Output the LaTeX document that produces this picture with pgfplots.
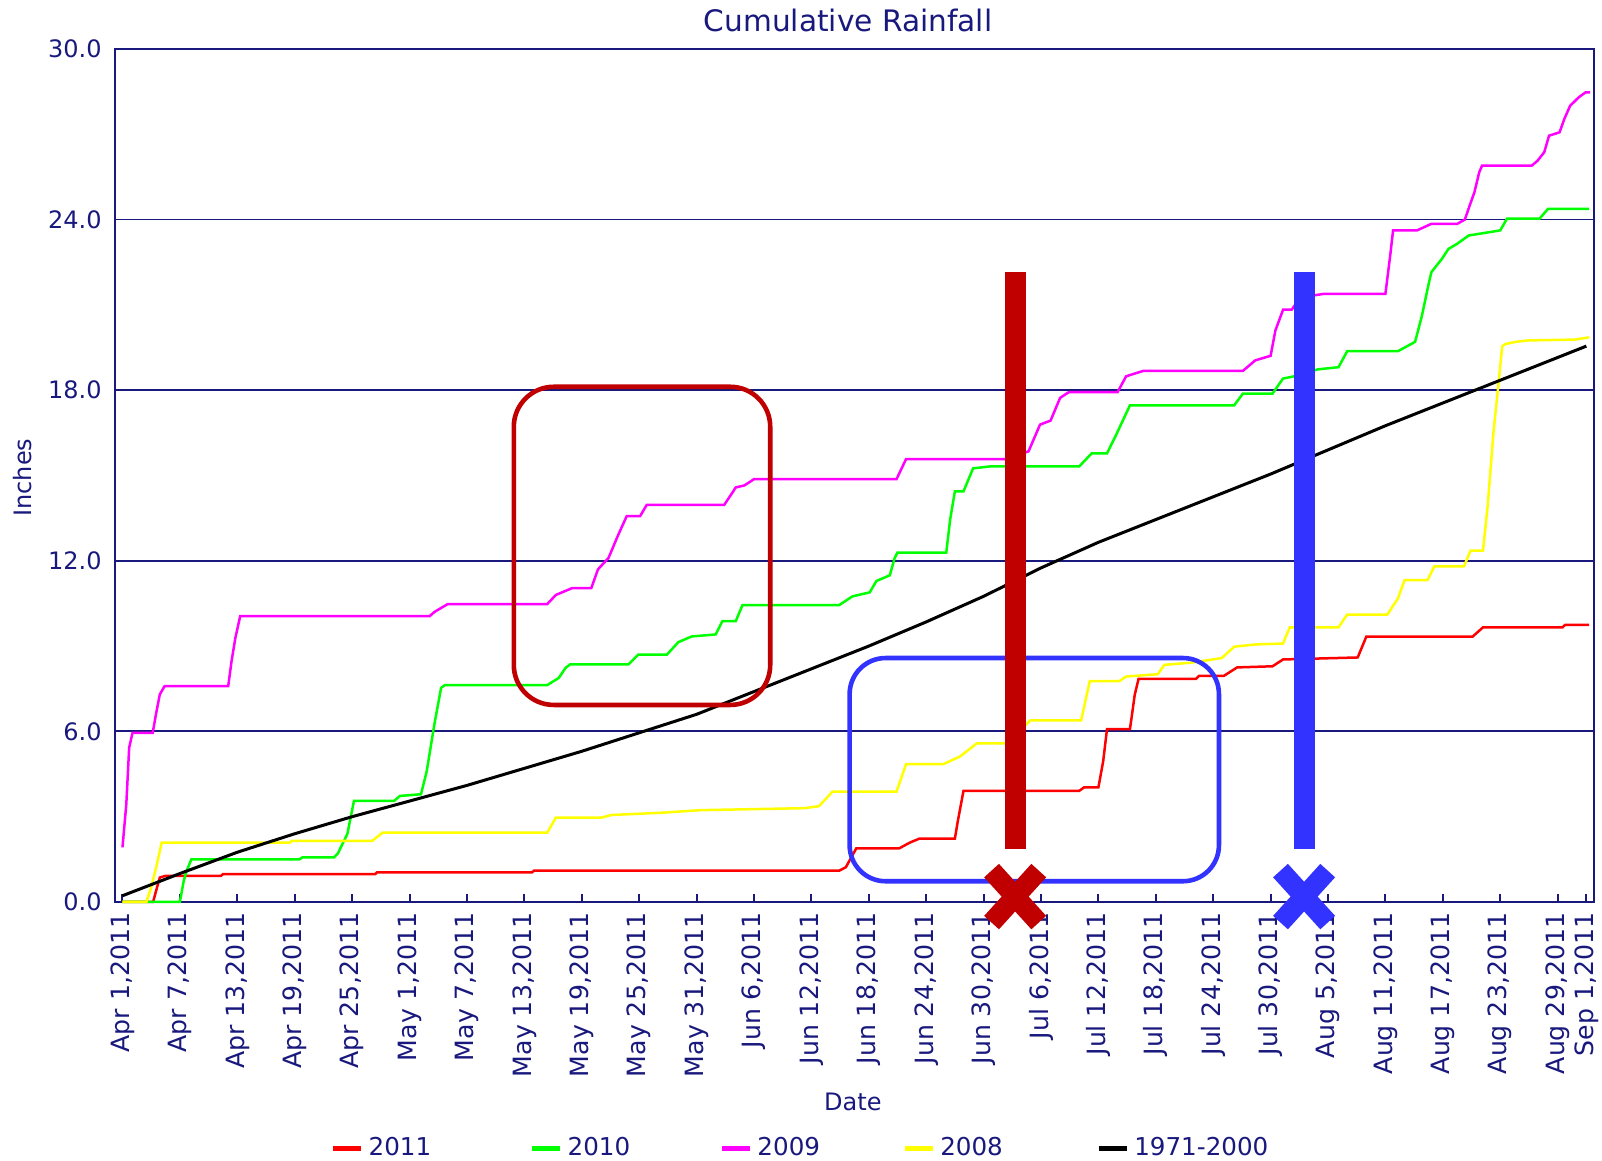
\documentclass[border=0pt]{standalone}
\usepackage{pgfplots}
\pgfplotsset{compat=1.18}
\usepackage{fontspec}
\setmainfont{DejaVu Sans}
\usetikzlibrary{calc}
\definecolor{navy}{RGB}{25,25,125}
\definecolor{annred}{RGB}{192,0,0}
\definecolor{annblue}{RGB}{51,51,255}
\definecolor{s2011}{RGB}{255,0,0}
\definecolor{s2010}{RGB}{0,255,0}
\definecolor{s2009}{RGB}{255,0,255}
\definecolor{s2008}{RGB}{255,255,0}
\newcommand\tk{\fontsize{12}{14}\selectfont}
\newcommand\tkx{\fontsize{12.6}{14}\selectfont}
\newcommand\tkl{\fontsize{12.3}{14}\selectfont}
\begin{document}
\begin{tikzpicture}
\useasboundingbox (-57.7pt,-129.5pt) rectangle (743.3pt,451pt);
\begin{axis}[
  at={(0,0)}, anchor=south west,
  scale only axis, width=739.3pt, height=426.5pt,
  xmin=-0.74, xmax=153.8, ymin=0, ymax=30,
  clip=false,
  axis line style={navy, line width=1pt},
  ytick={0,6,12,18,24,30},
  yticklabels={0.0,6.0,12.0,18.0,24.0,30.0},
  ymajorgrids, grid style={navy, line width=0.9pt},
  ytick style={draw=none},
  yticklabel style={font=\tk, text=navy, inner sep=0pt, xshift=-6.7pt},
  xtick={0,6,12,18,24,30,36,42,48,54,60,66,72,78,84,90,96,102,108,114,120,126,132,138,144,150,153},
  xticklabels={{Apr 1,2011},{Apr 7,2011},{Apr 13,2011},{Apr 19,2011},{Apr 25,2011},{May 1,2011},{May 7,2011},{May 13,2011},{May 19,2011},{May 25,2011},{May 31,2011},{Jun 6,2011},{Jun 12,2011},{Jun 18,2011},{Jun 24,2011},{Jun 30,2011},{Jul 6,2011},{Jul 12,2011},{Jul 18,2011},{Jul 24,2011},{Jul 30,2011},{Aug 5,2011},{Aug 11,2011},{Aug 17,2011},{Aug 23,2011},{Aug 29,2011},{Sep 1,2011}},
  xticklabel style={font=\tkx, text=navy, rotate=90, anchor=east, inner sep=0pt},
  xticklabel shift=5.2pt,
  xtick pos=bottom, tick align=inside, major tick length=4pt,
  xtick style={navy, line width=1pt},
  title={Cumulative Rainfall},
  every axis title/.style={font=\fontsize{14.8}{16}\selectfont, text=navy, at={(axis description cs:0.4955,1.034)}, anchor=center},
  xlabel={Date},
  every axis x label/.style={font=\tk, text=navy, at={(axis description cs:0.4988,-0.2338)}, anchor=center},
  ylabel={Inches},
  every axis y label/.style={font=\tk, text=navy, rotate=90, at={(axis description cs:-0.0629,0.4975)}, anchor=center},
  legend columns=5,
  legend cell align=left,
  legend image code/.code={\draw[line width=2.5pt] (0pt,0pt) -- (14pt,0pt);},
  legend style={at={(axis description cs:0.1452,-0.2885)}, anchor=west, draw=none, fill=none,
    font=\tkl, text=navy, inner sep=0pt, nodes={inner sep=0pt}},
  every axis plot/.append style={line width=1.25pt},
]
\addplot[s2011, no marks] coordinates {
(0,0) (3.2,0) (3.6,0.5) (3.9,0.86) (4.5,0.92) (10.3,0.92) (10.5,0.98) (26.4,0.98) (26.6,1.04) (42.8,1.04) (43,1.1) (74.9,1.1) (75.6,1.22) (76.7,1.89) (81.2,1.89) (82.3,2.09) (83.3,2.23) (87,2.23) (87.3,2.83) (87.9,3.91) (100,3.91) (100.5,4.03) (102,4.03) (102.5,4.95) (102.9,6.08) (105.3,6.08) (105.8,7.29) (106.2,7.85) (112.2,7.85) (112.5,7.95) (115.1,7.95) (116.5,8.25) (120.2,8.29) (121.3,8.53) (129.1,8.6) (130,9.33) (141.1,9.33) (142.2,9.66) (150.5,9.66) (150.8,9.75) (153.3,9.75)
};
\addlegendentry{\hspace{2.6pt}\makebox[80.4pt][l]{2011}}
\addplot[s2010, no marks] coordinates {
(0,0) (6.0,0) (6.4,0.74) (6.7,1.09) (7.2,1.5) (18.5,1.5) (18.8,1.57) (22.1,1.57) (22.5,1.7) (23.5,2.39) (24.2,3.56) (28.4,3.56) (29,3.73) (31.2,3.79) (31.8,4.6) (32.6,6.25) (33.3,7.53) (33.7,7.63) (44.4,7.63) (45.6,7.88) (46.3,8.23) (46.8,8.36) (52.9,8.36) (53.9,8.70) (56.9,8.70) (58.1,9.14) (59.5,9.34) (62,9.41) (62.7,9.88) (64.1,9.88) (64.8,10.44) (74.9,10.44) (76.3,10.75) (78.1,10.89) (78.8,11.29) (80.2,11.49) (80.7,12.09) (81,12.29) (86.1,12.29) (86.5,13.44) (87,14.44) (87.9,14.44) (88.9,15.25) (90.7,15.32) (100,15.32) (101.3,15.78) (102.9,15.78) (103.8,16.39) (105.3,17.47) (116.2,17.47) (117.1,17.88) (120.2,17.88) (121.3,18.41) (122.5,18.49) (124.9,18.73) (127.1,18.81) (128,19.37) (133.3,19.37) (135.1,19.7) (135.8,20.6) (136.5,21.71) (136.8,22.15) (137.9,22.62) (138.6,22.97) (139.5,23.15) (140.7,23.44) (141.8,23.5) (144,23.62) (144.7,24.03) (148.1,24.03) (149,24.38) (153.3,24.38)
};
\addlegendentry{\hspace{2.6pt}\makebox[75.8pt][l]{2010}}
\addplot[s2009, no marks] coordinates {
(0,1.92) (0.4,3.44) (0.7,5.43) (1.05,5.95) (3.16,5.95) (3.5,6.6) (3.9,7.3) (4.4,7.59) (11.05,7.59) (11.4,8.47) (11.8,9.29) (12.3,10.05) (32.1,10.05) (32.6,10.2) (34.0,10.48) (44.4,10.48) (45.3,10.8) (47.0,11.04) (49.0,11.04) (49.7,11.7) (50.8,12.1) (51.8,12.9) (52.7,13.57) (54.1,13.57) (54.8,13.97) (62.9,13.97) (64.1,14.58) (65,14.65) (66,14.87) (80.9,14.87) (81.9,15.58) (92.4,15.58) (94.7,15.85) (95.9,16.79) (97,16.93) (98,17.73) (98.9,17.93) (104,17.93) (104.9,18.49) (106.7,18.68) (117.1,18.68) (118.4,19.05) (120,19.21) (120.5,20.1) (121.3,20.83) (122.2,20.83) (123.1,21.26) (125.6,21.39) (132.0,21.39) (132.5,22.74) (132.8,23.62) (135.3,23.62) (136.8,23.85) (139.5,23.85) (140.3,24.0) (140.8,24.49) (141.3,24.96) (141.8,25.66) (142.1,25.9) (147.3,25.9) (147.9,26.07) (148.6,26.37) (149.1,26.95) (150.2,27.07) (150.7,27.54) (151.3,28.0) (152.2,28.3) (152.9,28.47) (153.4,28.47)
};
\addlegendentry{\hspace{2.6pt}\makebox[72.3pt][l]{2009}}
\addplot[s2008, no marks] coordinates {
(0,0) (2.5,0) (3.0,0.51) (3.6,1.33) (4.1,2.09) (17.5,2.09) (17.7,2.15) (26.1,2.15) (27.2,2.44) (44.4,2.44) (45.3,2.97) (50.1,2.97) (51.1,3.06) (56.4,3.14) (60.4,3.23) (71.3,3.30) (72.8,3.37) (74.2,3.88) (80.9,3.88) (81.9,4.85) (85.8,4.85) (87.5,5.11) (89.3,5.58) (92.4,5.58) (94.9,6.39) (100.2,6.39) (101.1,7.77) (104.2,7.77) (104.9,7.93) (108.2,8.01) (108.9,8.34) (111.8,8.42) (114.9,8.58) (116.2,8.98) (118.5,9.06) (121.3,9.09) (122,9.66) (127.1,9.66) (128,10.11) (132.2,10.11) (133.3,10.67) (134,11.32) (136.4,11.32) (137.1,11.8) (140.2,11.8) (140.9,12.36) (142.2,12.36) (142.7,13.98) (143.3,16.55) (143.8,18.17) (144.2,19.54) (144.5,19.62) (145.6,19.70) (146.9,19.75) (151.8,19.78) (153.3,19.86)
};
\addlegendentry{\hspace{2.6pt}\makebox[77.9pt][l]{2008}}
\addplot[black, no marks, line width=1.5pt] coordinates {
(0,0.22) (6,1.0) (12,1.75) (18,2.4) (24,3.0) (30,3.55) (36,4.1) (42,4.7) (48,5.3) (54,5.95) (60,6.6) (66,7.4) (72,8.2) (78,9.0) (84,9.85) (90,10.75) (96,11.75) (102,12.65) (108,13.45) (114,14.25) (120,15.05) (126,15.9) (132,16.75) (138,17.55) (144,18.35) (150,19.15) (153,19.55)
};
\addlegendentry{\hspace{2.6pt}1971-2000}
% annotations
\draw[annred, line width=2.3pt, rounded corners=20pt] (axis cs:40.9,6.93) rectangle (axis cs:67.7,18.12);
\draw[annblue, line width=2.3pt, rounded corners=18pt] (axis cs:76.0,0.73) rectangle (axis cs:114.6,8.58);
\draw[annred, line width=10.4pt] (axis cs:93.3,1.88) -- (axis cs:93.3,22.14);
\draw[annblue, line width=10.4pt] (axis cs:123.5,1.88) -- (axis cs:123.5,22.14);
\draw[annred, line width=10pt] ($(axis cs:93.3,0.19)+(-11.8pt,-13pt)$) -- ($(axis cs:93.3,0.19)+(11.8pt,13pt)$);
\draw[annred, line width=10pt] ($(axis cs:93.3,0.19)+(-11.8pt,13pt)$) -- ($(axis cs:93.3,0.19)+(11.8pt,-13pt)$);
\draw[annblue, line width=10pt] ($(axis cs:123.5,0.19)+(-11.8pt,-13pt)$) -- ($(axis cs:123.5,0.19)+(11.8pt,13pt)$);
\draw[annblue, line width=10pt] ($(axis cs:123.5,0.19)+(-11.8pt,13pt)$) -- ($(axis cs:123.5,0.19)+(11.8pt,-13pt)$);
\end{axis}
\end{tikzpicture}
\end{document}
